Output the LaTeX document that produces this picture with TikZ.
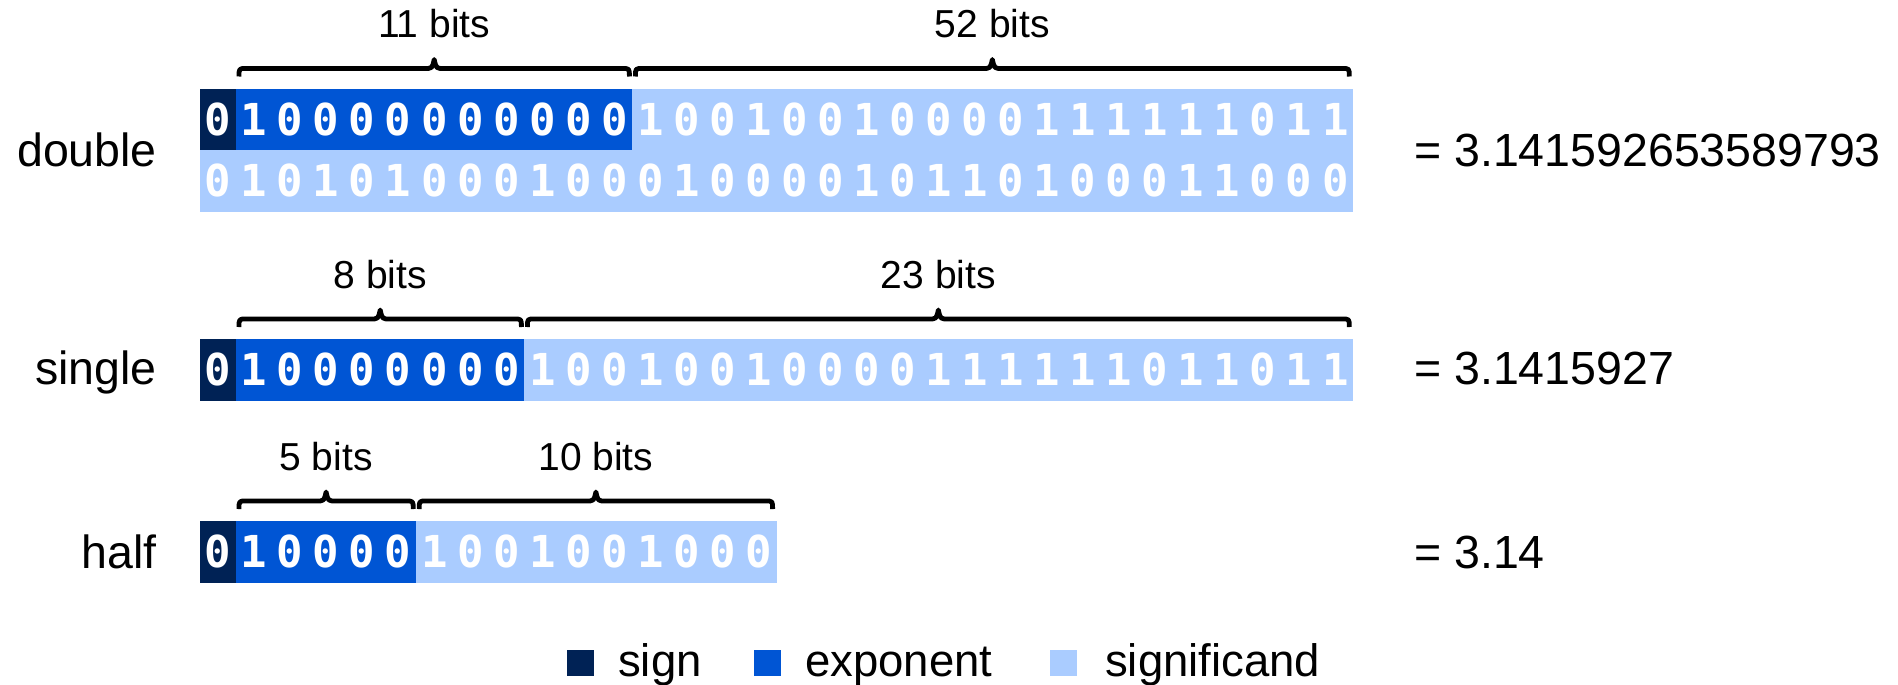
\documentclass[tikz,border=0pt]{standalone}
\usepackage{fontspec}
\setmainfont{Liberation Sans}
\newfontfamily\bitfont{DejaVu Sans Mono}
\definecolor{signc}{HTML}{002255}
\definecolor{expc}{HTML}{0055D4}
\definecolor{sigc}{HTML}{AACCFF}

% cell pitch and row height
\def\cw{36.04}
\def\rh{61.5}
\def\xo{200}

\tikzset{
  seg/.style={inner sep=0pt, outer sep=0pt, minimum height=\rh, anchor=north west, draw=none},
  bit/.style={inner sep=0pt, text=white, font=\bitfont\bfseries\fontsize{44}{44}\selectfont},
  fmt/.style={inner sep=0pt, font=\fontsize{46.5}{46.5}\selectfont},
  width/.style={inner sep=0pt, anchor=base, font=\fontsize{39}{39}\selectfont},
  legend/.style={inner sep=0pt, anchor=base west, font=\fontsize{45.5}{45.5}\selectfont},
  swatch/.style={inner sep=0pt, minimum width=27, minimum height=26, anchor=north west},
  bracepath/.style={draw=black, line width=4.8pt, line join=round},
}

% one row of bits, centred in their cells: prefix, top y, list of bits
\newcommand\bitline[3]{%
  \foreach \b [count=\i from 0] in {#3}{%
    \node[bit] (#1-\i) at ({\xo+(\i+0.5)*\cw},{#2+\rh/2}) {\b};
  }%
}

% curly brace over a field: left x, right x, top of the row below
\newcommand\fieldbrace[3]{%
  \pgfmathsetmacro\bm{(#1+#2)/2}%
  \draw[bracepath] (#1,#3-12) .. controls (#1,#3-20) .. (#1+7,#3-20)
    -- (\bm-10,#3-20) .. controls (\bm-2,#3-20) .. (\bm,#3-29)
    .. controls (\bm+2,#3-20) .. (\bm+10,#3-20)
    -- (#2-7,#3-20) .. controls (#2,#3-20) .. (#2,#3-12);
}

\begin{document}
\begin{tikzpicture}[x=1pt,y=-1pt]
\useasboundingbox (0,0) rectangle (1898,685);

% ---------------- double ----------------
\node[seg, fill=signc, minimum width=\cw]      (d-sign) at (\xo,88.5) {};
\node[seg, fill=expc,  minimum width=11*\cw]   (d-exp)  at (\xo+\cw,88.5) {};
\node[seg, fill=sigc,  minimum width=20*\cw]   (d-sig)  at (\xo+12*\cw,88.5) {};
\node[seg, fill=sigc,  minimum width=32*\cw]   (d-low)  at (\xo,150) {};
\bitline{da}{88.5}{0,1,0,0,0,0,0,0,0,0,0,0,1,0,0,1,0,0,1,0,0,0,0,1,1,1,1,1,1,0,1,1}
\bitline{db}{150}{0,1,0,1,0,1,0,0,0,1,0,0,0,1,0,0,0,0,1,0,1,1,0,1,0,0,0,1,1,0,0,0}
\fieldbrace{239}{629.4}{88.5}
\fieldbrace{635.4}{1349.3}{88.5}
\node[width] (d-expw) at (434.2,38) {11 bits};
\node[width] (d-sigw) at (992.4,38) {52 bits};
\node[fmt, anchor=base east] (d-name)  at (157,166) {double};
\node[fmt, anchor=base west] (d-value) at (1414,166) {= 3.141592653589793};

% ---------------- single ----------------
\node[seg, fill=signc, minimum width=\cw]      (s-sign) at (\xo,339) {};
\node[seg, fill=expc,  minimum width=8*\cw]    (s-exp)  at (\xo+\cw,339) {};
\node[seg, fill=sigc,  minimum width=23*\cw]   (s-sig)  at (\xo+9*\cw,339) {};
\bitline{sa}{339}{0,1,0,0,0,0,0,0,0,1,0,0,1,0,0,1,0,0,0,0,1,1,1,1,1,1,0,1,1,0,1,1}
\fieldbrace{239}{521.4}{339}
\fieldbrace{527.4}{1349.3}{339}
\node[width] (s-expw) at (380.2,288) {8 bits};
\node[width] (s-sigw) at (938.4,288) {23 bits};
\node[fmt, anchor=base east] (s-name)  at (157,384) {single};
\node[fmt, anchor=base west] (s-value) at (1414,384) {= 3.1415927};

% ---------------- half ----------------
\node[seg, fill=signc, minimum width=\cw]      (h-sign) at (\xo,521) {};
\node[seg, fill=expc,  minimum width=5*\cw]    (h-exp)  at (\xo+\cw,521) {};
\node[seg, fill=sigc,  minimum width=10*\cw]   (h-sig)  at (\xo+6*\cw,521) {};
\bitline{ha}{521}{0,1,0,0,0,0,1,0,0,1,0,0,1,0,0,0}
\fieldbrace{239}{413.2}{521}
\fieldbrace{419.2}{772.6}{521}
\node[width] (h-expw) at (326.1,470) {5 bits};
\node[width] (h-sigw) at (595.9,470) {10 bits};
\node[fmt, anchor=base east] (h-name)  at (157,568) {half};
\node[fmt, anchor=base west] (h-value) at (1414,568) {= 3.14};

% ---------------- legend ----------------
\node[swatch, fill=signc] (k-sign) at (567,650) {};
\node[legend] (k-signt) at (618,676) {sign};
\node[swatch, fill=expc]  (k-exp)  at (754,650) {};
\node[legend] (k-expt)  at (805,676) {exponent};
\node[swatch, fill=sigc]  (k-sig)  at (1050,650) {};
\node[legend] (k-sigt)  at (1105,676) {significand};
\end{tikzpicture}
\end{document}
